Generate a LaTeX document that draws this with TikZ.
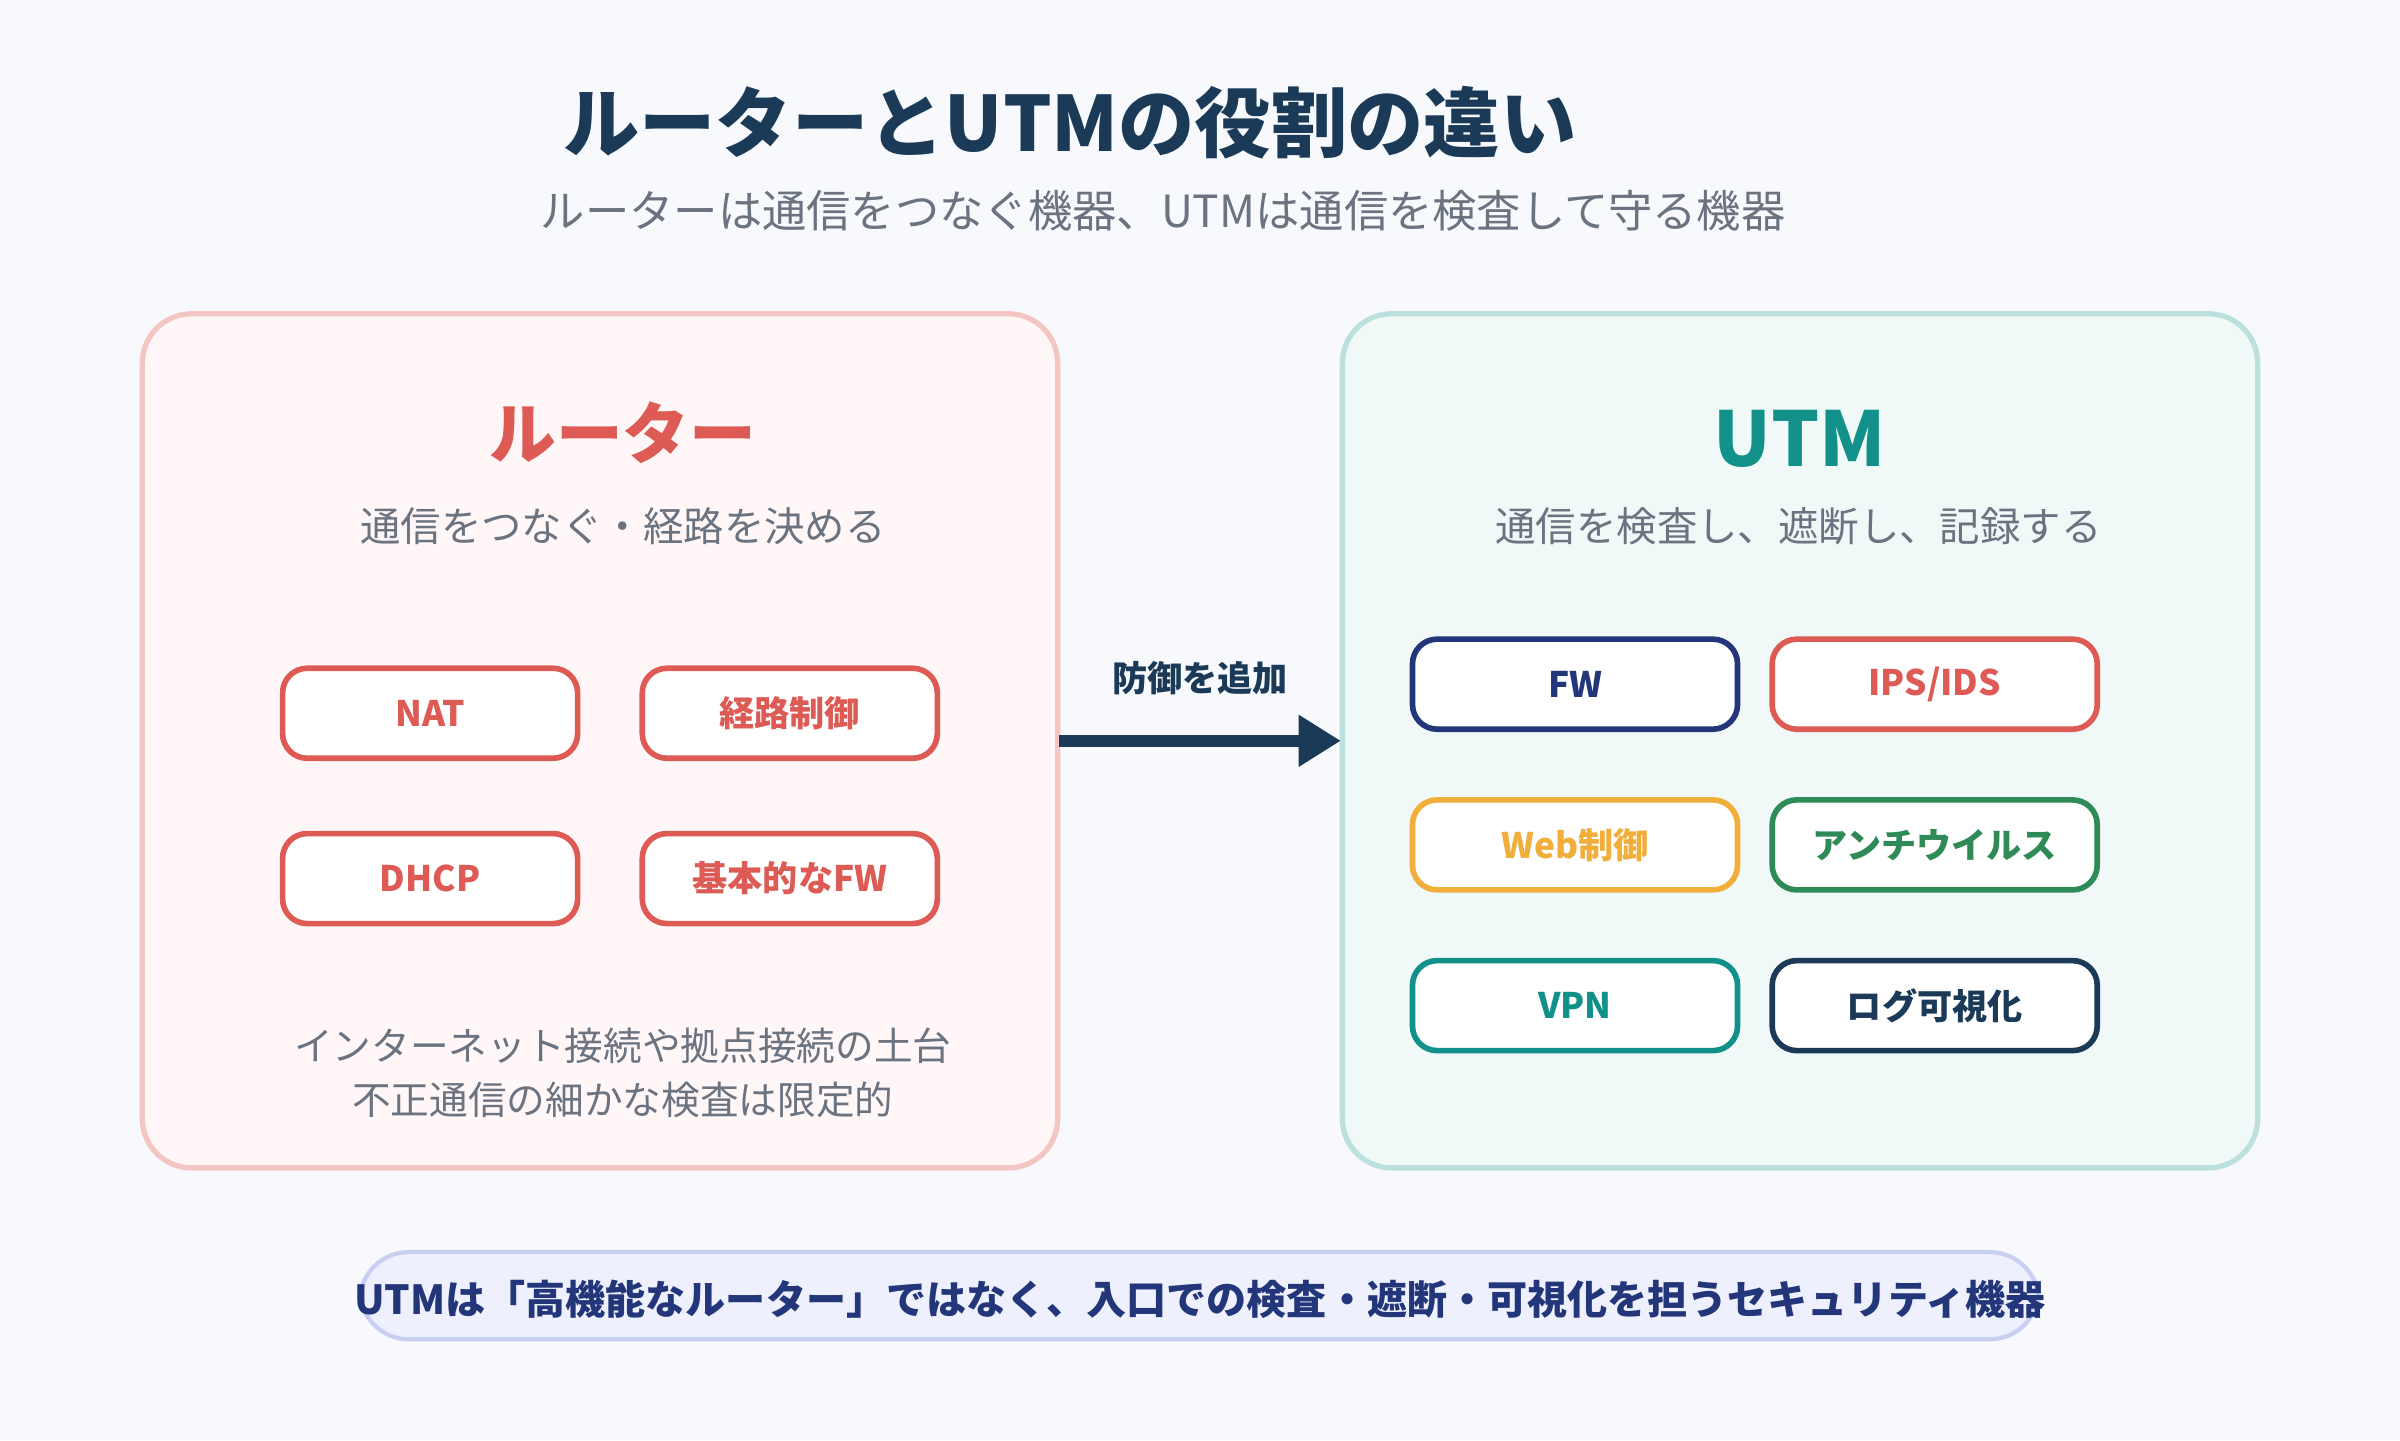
\documentclass[tikz,border=0pt]{standalone}
\usepackage{fontspec}
\setmainfont{Noto Sans CJK JP}
\usetikzlibrary{positioning,arrows.meta}
\definecolor{bgc}{HTML}{F7F9FC}
\definecolor{navy}{HTML}{1B3A57}
\definecolor{grayt}{HTML}{6B7280}
\definecolor{redc}{HTML}{DD5A55}
\definecolor{tealc}{HTML}{11918A}
\definecolor{blue2}{HTML}{23367A}
\definecolor{orangec}{HTML}{F2AE3A}
\definecolor{greenc}{HTML}{2E8B57}
\definecolor{pillbg}{HTML}{EEF1FD}
\definecolor{pillline}{HTML}{C8CFF2}
\tikzset{
  panel/.style={rectangle, rounded corners=14pt, line width=1.5pt},
  chip/.style={rectangle, rounded corners=7pt, fill=white, line width=1.6pt, minimum height=0.9cm, font=\bfseries\fontsize{10}{12}\selectfont},
  lchip/.style={chip, draw=redc, text=redc, minimum width=2.95cm},
  rchip/.style={chip, minimum width=3.25cm},
  subt/.style={text=grayt, font=\fontsize{11.5}{14}\selectfont},
}
\begin{document}
\begin{tikzpicture}[x=0.01531cm, y=-0.01531cm]
  \fill[bgc] (0,0) rectangle (1568,941);
  \useasboundingbox (0,0) rectangle (1568,941);

  % title
  \node[text=navy, font=\bfseries\fontsize{21.7}{24}\selectfont] (title) at (699,80) {ルーターとUTMの役割の違い};
  \node[subt, font=\fontsize{12.6}{14}\selectfont] (subtitle) at (760,138) {ルーターは通信をつなぐ機器、UTMは通信を検査して守る機器};

  % panels
  \draw[panel, fill=red!3, draw=redc!35] (93,205) rectangle (691,763);
  \draw[panel, fill=tealc!6, draw=tealc!28] (877,205) rectangle (1475,763);
  \coordinate (lp) at (692,484);
  \coordinate (rp) at (876,484);

  % router side
  \node[text=redc, font=\bfseries\fontsize{19}{22}\selectfont] (router) at (407,283) {ルーター};
  \node[subt] (routersub) at (407,344) {通信をつなぐ・経路を決める};
  \node[lchip] (nat) at (281,466) {NAT};
  \node[lchip] (route) at (516,466) {経路制御};
  \node[lchip] (dhcp) at (281,574) {DHCP};
  \node[lchip] (basefw) at (516,574) {基本的なFW};
  \node[subt, align=center, font=\fontsize{11}{15.5}\selectfont] (routernote) at (407,701) {インターネット接続や拠点接続の土台\\不正通信の細かな検査は限定的};

  % utm side
  \node[text=tealc, font=\bfseries\fontsize{21.5}{26}\selectfont] (utm) at (1176,287) {UTM};
  \node[subt] (utmsub) at (1175,344) {通信を検査し、遮断し、記録する};
  \node[rchip, draw=blue2, text=blue2] (fw) at (1029,447) {FW};
  \node[rchip, draw=redc, text=redc] (ips) at (1264,447) {IPS/IDS};
  \node[rchip, draw=orangec, text=orangec] (web) at (1029,552) {Web制御};
  \node[rchip, draw=greenc, text=greenc] (av) at (1264,552) {アンチウイルス};
  \node[rchip, draw=tealc, text=tealc] (vpn) at (1029,657) {VPN};
  \node[rchip, draw=navy, text=navy] (log) at (1264,657) {ログ可視化};

  % arrow
  \draw[navy, line width=3.5pt, -{Triangle[length=12pt,width=14pt]}] (lp) -- (rp);
  \node[text=navy, font=\bfseries\fontsize{10}{12}\selectfont] (addlabel) at (784,443) {防御を追加};

  % bottom note
  \draw[fill=pillbg, draw=pillline, line width=1.2pt, rounded corners=14pt] (235,818) rectangle (1332,875);
  \node[text=blue2, font=\bfseries\fontsize{11.4}{14}\selectfont] (note) at (784,849) {UTMは「高機能なルーター」ではなく、入口での検査・遮断・可視化を担うセキュリティ機器};
\end{tikzpicture}
\end{document}
